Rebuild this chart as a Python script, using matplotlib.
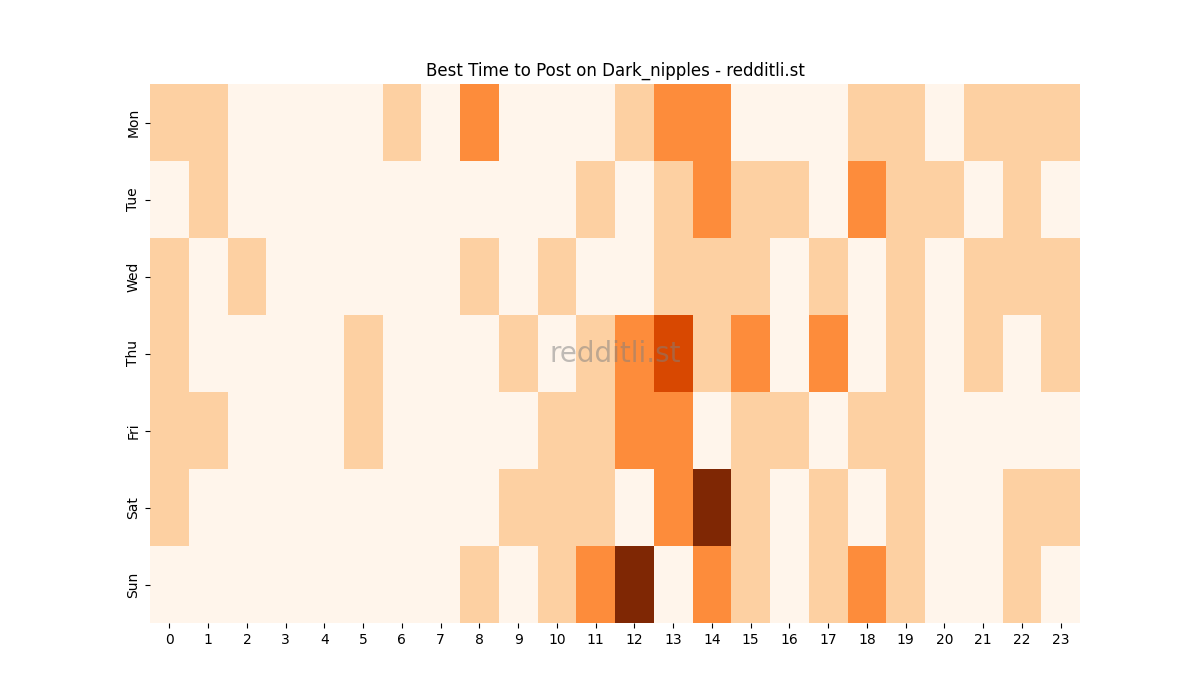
import matplotlib
matplotlib.use("Agg")
import matplotlib.pyplot as plt
import seaborn as sns
import numpy as np

days = ["Mon", "Tue", "Wed", "Thu", "Fri", "Sat", "Sun"]
hours = list(range(24))

mon = [1,1,0,0,0,0,1,0,2,0,0,0,1,2,2,0,0,0,1,1,0,1,1,1]
tue = [0,1,0,0,0,0,0,0,0,0,0,1,0,1,2,1,1,0,2,1,1,0,1,0]
wed = [1,0,1,0,0,0,0,0,1,0,1,0,0,1,1,1,0,1,0,1,0,1,1,1]
thu = [1,0,0,0,0,1,0,0,0,1,0,1,2,3,1,2,0,2,0,1,0,1,0,1]
fri = [1,1,0,0,0,1,0,0,0,0,1,1,2,2,0,1,1,0,1,1,0,0,0,0]
sat = [1,0,0,0,0,0,0,0,0,1,1,1,0,2,4,1,0,1,0,1,0,0,1,1]
sun = [0,0,0,0,0,0,0,0,1,0,1,2,4,0,2,1,0,1,2,1,0,0,1,0]

data = np.array([mon, tue, wed, thu, fri, sat, sun])

fig, ax = plt.subplots(figsize=(12, 7), dpi=100)
sns.heatmap(data, cmap="Oranges", cbar=False, ax=ax,
            xticklabels=hours, yticklabels=days, vmin=0, vmax=4)
ax.set_title("Best Time to Post on Dark_nipples - redditli.st")
ax.text(0.5, 0.5, "redditli.st", transform=ax.transAxes, ha="center", va="center",
        fontsize=20, color="gray", alpha=0.5)
fig.savefig("out.png")
